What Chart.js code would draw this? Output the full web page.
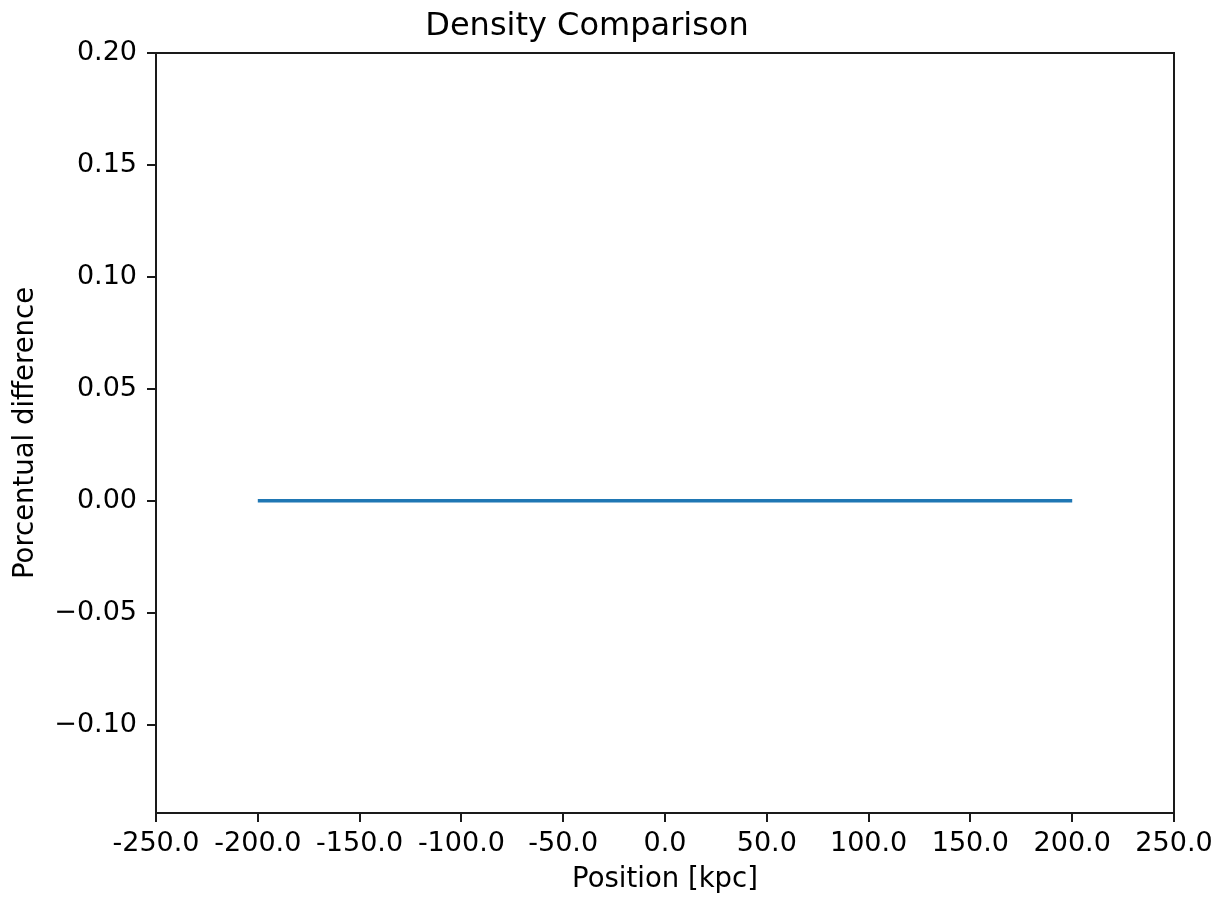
<!DOCTYPE html>
<html>
<head>
<meta charset="utf-8">
<script src="https://cdn.jsdelivr.net/npm/chart.js@4/dist/chart.umd.min.js"></script>
<style>
  html, body { margin: 0; padding: 0; background: #fff; }
  #wrap { width: 1219px; height: 899px; }
</style>
</head>
<body>
<div id="wrap"><canvas id="densityChart"></canvas></div>
<script>
// positions along the profile [kpc] and the percentual difference
const positions = [-200, -150, -100, -50, 0, 50, 100, 150, 200];
const differences = [0, 0, 0, 0, 0, 0, 0, 0, 0];

const xTicks = [-250, -200, -150, -100, -50, 0, 50, 100, 150, 200, 250];
const yTicks = [-0.10, -0.05, 0.00, 0.05, 0.10, 0.15, 0.20];
const xRange = [-250, 250];
const yRange = [-0.1395, 0.20];

const FONT = "'DejaVu Sans', sans-serif";

// matplotlib-like closed frame around the plot area
const frame = {
  id: 'frame',
  afterDraw(chart) {
    const { ctx, chartArea: a } = chart;
    ctx.save();
    ctx.strokeStyle = '#1a1a1a';
    ctx.lineWidth = 2;
    ctx.strokeRect(a.left, a.top, a.right - a.left, a.bottom - a.top);
    ctx.restore();
  }
};

new Chart(document.getElementById('densityChart'), {
  type: 'line',
  data: {
    datasets: [{
      data: positions.map((p, i) => ({ x: p, y: differences[i] })),
      borderColor: '#1f77b4',
      borderWidth: 3.5,
      pointRadius: 0,
      tension: 0,
      fill: false
    }]
  },
  options: {
    responsive: true,
    maintainAspectRatio: false,
    animation: false,
    layout: { padding: { left: 0, right: 45, top: 0, bottom: 0 } },
    plugins: {
      legend: { display: false },
      tooltip: { enabled: false },
      title: {
        display: true,
        text: 'Density Comparison',
        color: '#000',
        font: { family: FONT, size: 32, weight: 'normal' },
        padding: { top: 7, bottom: 7.6 }
      }
    },
    scales: {
      x: {
        type: 'linear',
        min: xRange[0],
        max: xRange[1],
        afterBuildTicks: s => { s.ticks = xTicks.map(v => ({ value: v })); },
        afterFit: s => { s.height = 86; },
        grid: { drawOnChartArea: false, drawTicks: true, tickLength: 9, color: '#1a1a1a', lineWidth: 2 },
        border: { display: true, color: '#1a1a1a', width: 2 },
        ticks: {
          color: '#000',
          padding: 6,
          maxRotation: 0,
          autoSkip: false,
          font: { family: FONT, size: 27 },
          callback: v => v.toFixed(1)
        },
        title: {
          display: true,
          text: 'Position [kpc]',
          color: '#000',
          font: { family: FONT, size: 27.5 },
          padding: { top: 4, bottom: 3 }
        }
      },
      y: {
        type: 'linear',
        min: yRange[0],
        max: yRange[1],
        afterBuildTicks: s => { s.ticks = yTicks.map(v => ({ value: v })); },
        afterFit: s => { s.width = 156; },
        grid: { drawOnChartArea: false, drawTicks: true, tickLength: 9, color: '#1a1a1a', lineWidth: 2 },
        border: { display: true, color: '#1a1a1a', width: 2 },
        ticks: {
          color: '#000',
          padding: 10,
          autoSkip: false,
          font: { family: FONT, size: 27 },
          callback: v => (v < 0 ? '\u2212' + Math.abs(v).toFixed(2) : v.toFixed(2))
        },
        title: {
          display: true,
          text: 'Porcentual difference',
          color: '#000',
          font: { family: FONT, size: 27.5 },
          padding: { top: 9.5, bottom: 0 }
        }
      }
    }
  },
  plugins: [frame]
});
</script>
</body>
</html>
